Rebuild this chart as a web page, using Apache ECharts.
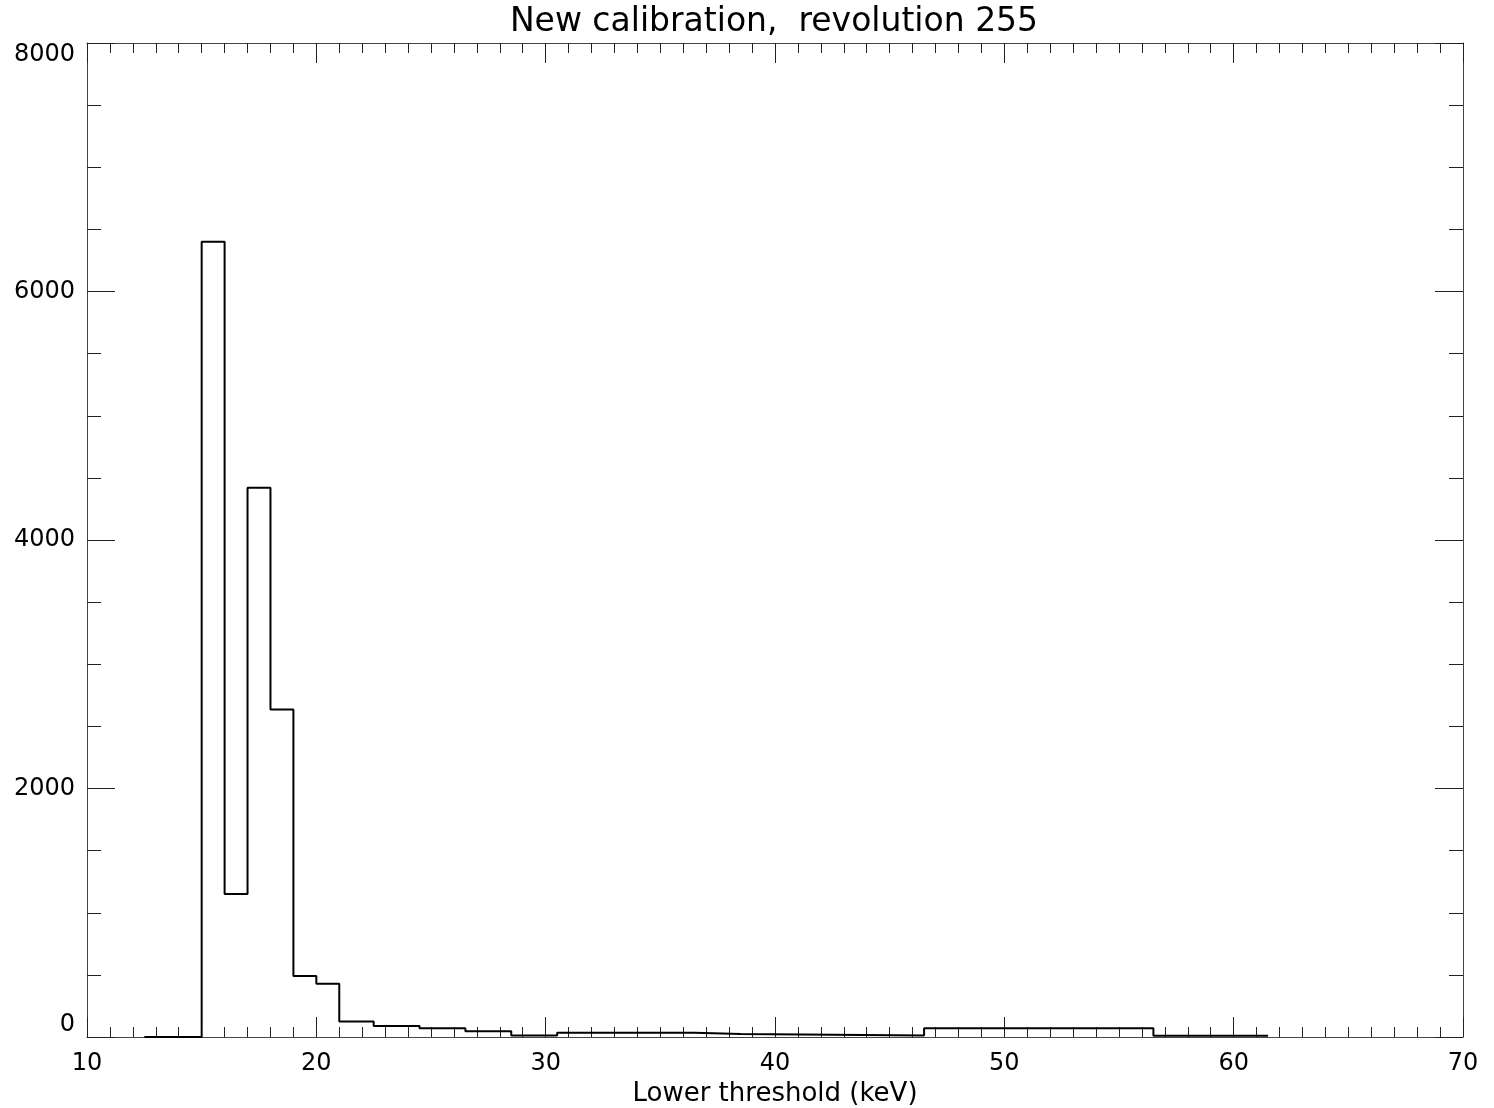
<!DOCTYPE html>
<html>
<head>
<meta charset="utf-8">
<script src="https://cdn.jsdelivr.net/npm/echarts@6/dist/echarts.min.js"></script>
<style>
html,body{margin:0;padding:0;background:#fff;}
#chart{width:1494px;height:1108px;}
</style>
</head>
<body>
<div id="chart"></div>
<script>
// Histogram bin edges (keV) and counts per bin
var binEdges = [12.5, 15, 16, 17, 18, 19, 20, 21, 22.5, 24.5, 26.5, 28.5, 30.5, 36.5, 38.5, 46.5, 56.5, 61.5];
var binCounts = [0, 6400, 1150, 4420, 2635, 490, 428, 125, 89, 70, 46, 12, 35, 24, 12, 70, 10];
var xTickLabels = [10, 20, 30, 40, 50, 60, 70];
var yTickLabels = [0, 2000, 4000, 6000, 8000];
var titleText = 'New calibration,  revolution 255';
var xAxisName = 'Lower threshold (keV)';

var stepData = binEdges.map(function (e, i) {
  return [e, binCounts[Math.min(i, binCounts.length - 1)]];
});

var FONT = 'DejaVu Sans';
var frameColor = '#444';

function baseX(pos, showLabels) {
  return {
    type: 'value', position: pos, min: xTickLabels[0], max: xTickLabels[xTickLabels.length - 1], interval: 10,
    axisLine: { show: true, onZero: false, lineStyle: { color: frameColor, width: 1 } },
    axisTick: { show: true, inside: true, length: 20, lineStyle: { color: '#222', width: 1 } },
    minorTick: { show: true, splitNumber: 10, length: 10, lineStyle: { color: '#222', width: 1 } },
    axisLabel: { show: showLabels, color: '#000', fontFamily: FONT, fontSize: 24, margin: 15,
      formatter: function (v) { return String(v); } },
    splitLine: { show: false }, minorSplitLine: { show: false }
  };
}
function baseY(pos, showLabels) {
  return {
    type: 'value', position: pos, min: yTickLabels[0], max: yTickLabels[yTickLabels.length - 1], interval: 2000,
    axisLine: { show: true, onZero: false, lineStyle: { color: frameColor, width: 1 } },
    axisTick: { show: true, inside: true, length: 28, lineStyle: { color: '#222', width: 1 } },
    minorTick: { show: true, splitNumber: 4, length: 14, lineStyle: { color: '#222', width: 1 } },
    axisLabel: { show: showLabels, color: '#000', fontFamily: FONT, fontSize: 24, margin: 12,
      verticalAlignMaxLabel: 'top', verticalAlignMinLabel: 'bottom',
      formatter: function (v) { return String(v); } },
    splitLine: { show: false }, minorSplitLine: { show: false }
  };
}

var xBottom = baseX('bottom', true);
xBottom.name = xAxisName;
xBottom.nameLocation = 'middle';
xBottom.nameGap = 42;
xBottom.nameTextStyle = { color: '#000', fontFamily: FONT, fontSize: 26 };

var chart = echarts.init(document.getElementById('chart'), null, { renderer: 'canvas' });
chart.setOption({
  animation: false,
  backgroundColor: '#fff',
  title: { text: titleText, left: 769, textAlign: 'center', top: 1,
    textStyle: { color: '#000', fontFamily: FONT, fontSize: 33, fontWeight: 'normal' } },
  grid: { left: 87, right: 31, top: 43, bottom: 71, containLabel: false, outerBoundsMode: 'none' },
  xAxis: [xBottom, baseX('top', false)],
  yAxis: [baseY('left', true), baseY('right', false)],
  series: [{
    type: 'line', xAxisIndex: 0, yAxisIndex: 0, step: 'end', symbol: 'none',
    data: stepData,
    lineStyle: { color: '#000', width: 2 }
  }]
});
</script>
</body>
</html>
